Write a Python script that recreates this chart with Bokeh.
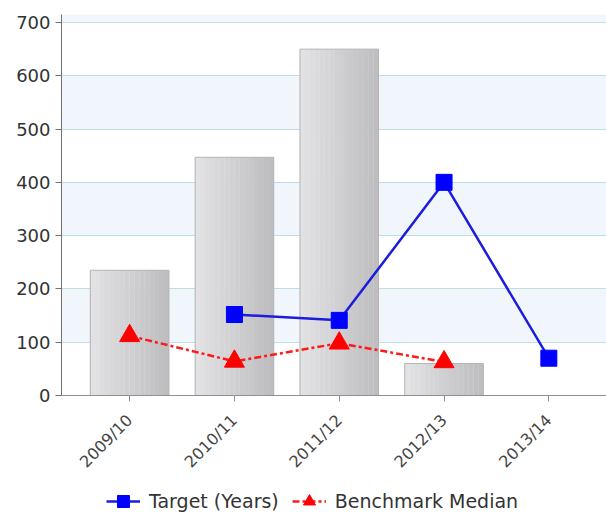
import math
from bokeh.plotting import figure
from bokeh.layouts import column
from bokeh.models import Legend, LegendItem, FixedTicker, Range1d
from bokeh.embed import file_html
from bokeh.resources import INLINE

# ---- data ----
categories = ["2009/10", "2010/11", "2011/12", "2012/13", "2013/14"]
bar_values = [235, 447, 650, 60, None]
target_years = [None, 152, 141, 400, 70]
benchmark_median = [112, 64, 98, 63, None]
y_ticks = [0, 100, 200, 300, 400, 500, 600, 700]

FONT = "DejaVu Sans"
idx = list(range(len(categories)))

p = figure(width=606, height=480, output_backend="svg", toolbar_location=None,
           x_range=Range1d(-0.65, 4.55), y_range=Range1d(0, 715),
           min_border_left=61, min_border_right=0, min_border_top=14,
           min_border_bottom=85, background_fill_color="white",
           border_fill_color="white", outline_line_color=None)

# grid / bands
p.xgrid.visible = False
p.ygrid.ticker = FixedTicker(ticks=y_ticks)
p.ygrid.grid_line_color = "#bfdde4"
p.ygrid.grid_line_width = 1
p.ygrid.band_fill_color = "#eef3fb"
p.ygrid.band_fill_alpha = 0.8

# bars with a horizontal grey gradient (drawn as thin slices)
bar_idx = [i for i, v in enumerate(bar_values) if v is not None]
bar_top = [bar_values[i] for i in bar_idx]
bar_w = 0.75
n_sl = 16
c0 = (226, 226, 228)
c1 = (190, 190, 192)
for k in range(n_sl):
    t = k / (n_sl - 1)
    col = "#%02x%02x%02x" % tuple(int(round(a + (b - a) * t)) for a, b in zip(c0, c1))
    off = -bar_w / 2 + (k + 0.5) * bar_w / n_sl
    p.vbar(x=[i + off for i in bar_idx], top=bar_top, bottom=0,
           width=bar_w / n_sl * 1.05, fill_color=col, line_color=None)
p.vbar(x=bar_idx, top=bar_top, bottom=0, width=bar_w, fill_color=None,
       line_color="#b4b4b6", line_width=1)

RED_LINE = dict(line_color="#ff1a1a", line_width=2.5, line_dash="7 3 3 3")
RED_MARK = dict(marker="triangle", size=20, fill_color="#ff0000", line_color="#ff0000")
BLUE_LINE = dict(line_color="#1c1cdc", line_width=2.5)
BLUE_MARK = dict(marker="square", size=16, fill_color="#0000ff", line_color="#0000ff")

# benchmark median line
b_idx = [i for i, v in enumerate(benchmark_median) if v is not None]
b_val = [benchmark_median[i] for i in b_idx]
p.line(b_idx, b_val, **RED_LINE)
p.scatter(b_idx, b_val, **RED_MARK)

# target line
t_idx = [i for i, v in enumerate(target_years) if v is not None]
t_val = [target_years[i] for i in t_idx]
p.line(t_idx, t_val, **BLUE_LINE)
p.scatter(t_idx, t_val, **BLUE_MARK)

# axes
p.yaxis.ticker = FixedTicker(ticks=y_ticks)
p.yaxis.axis_line_color = "#707070"
p.yaxis.major_tick_line_color = "#707070"
p.yaxis.major_tick_out = 6
p.yaxis.major_tick_in = 0
p.yaxis.minor_tick_line_color = None
p.yaxis.major_label_text_font = FONT
p.yaxis.major_label_text_font_size = "18px"
p.yaxis.major_label_text_color = "#333333"
p.yaxis.major_label_standoff = 5

p.xaxis.ticker = FixedTicker(ticks=idx)
p.xaxis.major_label_overrides = {i: c for i, c in enumerate(categories)}
p.xaxis.major_label_orientation = math.pi / 4
p.xaxis.axis_line_color = "#909090"
p.xaxis.major_tick_line_color = "#909090"
p.xaxis.major_tick_out = 6
p.xaxis.major_tick_in = 0
p.xaxis.minor_tick_line_color = None
p.xaxis.major_label_text_font = FONT
p.xaxis.major_label_text_font_size = "16px"
p.xaxis.major_label_text_color = "#444444"
p.xaxis.major_label_standoff = 16

# legend strip (glyph data lies outside its ranges: only the legend shows)
p2 = figure(width=606, height=33, output_backend="svg", toolbar_location=None,
            x_range=Range1d(0, 1), y_range=Range1d(0, 1),
            min_border=0, outline_line_color=None,
            background_fill_color="white", border_fill_color="white")
p2.axis.visible = False
p2.grid.visible = False
lt = p2.line([-10, -9], [-10, -9], **BLUE_LINE)
mt = p2.scatter([-10], [-10], **BLUE_MARK)
lr = p2.line([-10, -9], [-10, -9], **RED_LINE)
mr = p2.scatter([-10], [-10], **RED_MARK)
legend = Legend(items=[
    LegendItem(label="Target (Years)", renderers=[lt, mt]),
    LegendItem(label="Benchmark Median", renderers=[lr, mr]),
], orientation="horizontal", location=(45, -3),
    label_text_font=FONT, label_text_font_size="19px", label_text_color="#333333",
    border_line_color=None, background_fill_alpha=0,
    glyph_width=34, glyph_height=30, spacing=13, label_standoff=9,
    margin=0, padding=0)
p2.add_layout(legend, "center")

layout = column(p, p2, spacing=0)
open("out.html", "w").write(file_html(layout, INLINE))
